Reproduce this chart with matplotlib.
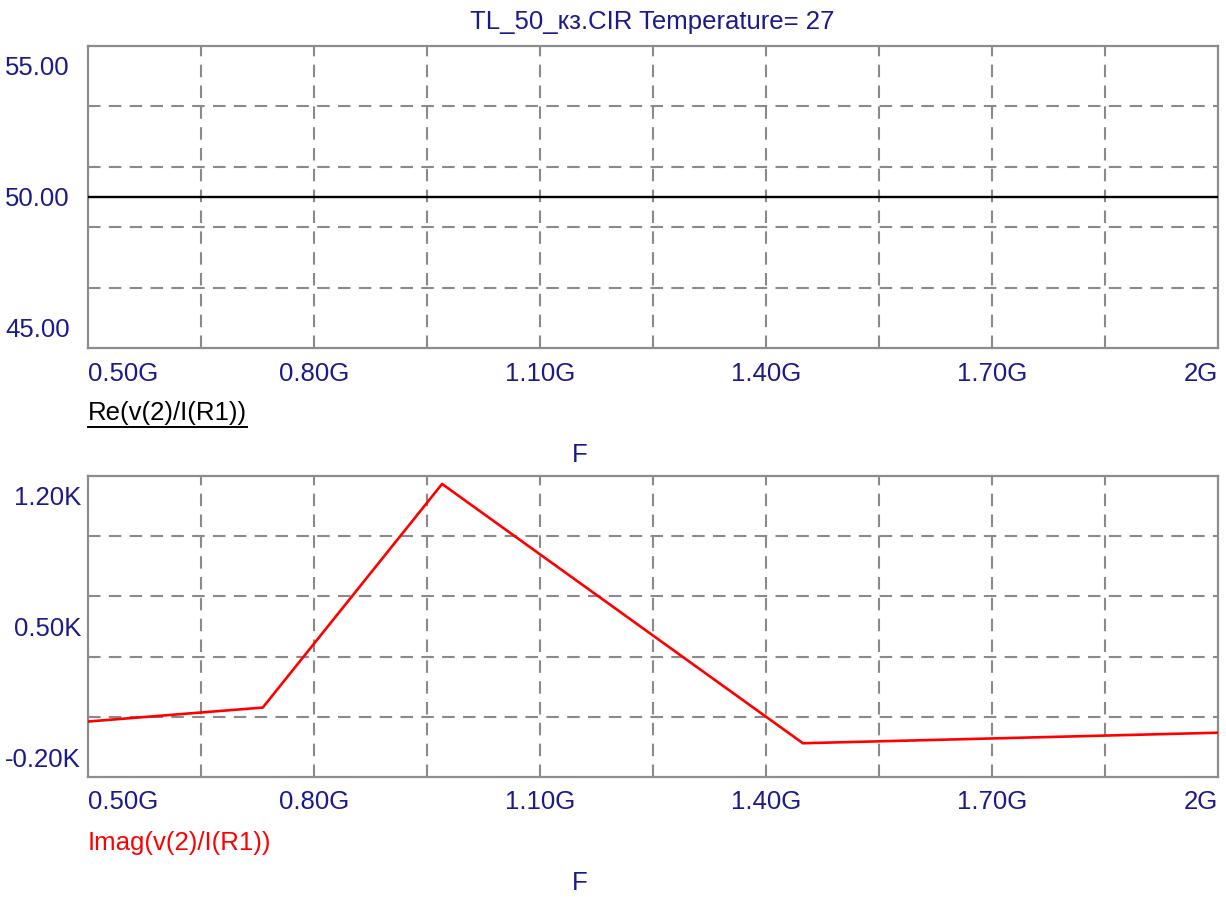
import numpy as np
import matplotlib
matplotlib.use("Agg")
import matplotlib.pyplot as plt
from matplotlib import transforms
from matplotlib.lines import Line2D

# frequency in GHz, impedance values
FREQ_RE = [0.5, 2.0]
RE_Z = [50.0, 50.0]                      # ohm
FREQ_IM = [0.5, 0.732, 0.970, 1.449, 2.0]
IM_Z = [0.058, 0.123, 1.163, -0.043, 0.006]   # kOhm

X_TICKS = [0.5, 0.8, 1.1, 1.4, 1.7, 2.0]
X_LABELS = ["0.50G", "0.80G", "1.10G", "1.40G", "1.70G", "2G"]
RE_TICKS = [45, 50, 55]
RE_LABELS = ["45.00", "50.00", "55.00"]
IM_TICKS = [-0.2, 0.5, 1.2]
IM_LABELS = ["-0.20K", "0.50K", "1.20K"]

TITLE = "TL_50_кз.CIR Temperature= 27"
RE_NAME = "Re(v(2)/I(R1))"
IM_NAME = "Imag(v(2)/I(R1))"

NAVY = "#1a1a8c"
GRID = "#8a8a8a"
FS = 18.5

plt.rcParams["font.family"] = ["Liberation Sans Narrow", "Liberation Sans", "DejaVu Sans"]
plt.rcParams["lines.scale_dashes"] = False

W, H = 1226, 897
fig = plt.figure(figsize=(W / 100, H / 100), dpi=100)


def px_axes(left, top, right, bottom):
    return fig.add_axes([left / W, 1 - bottom / H, (right - left) / W, (bottom - top) / H])


def style(ax, ylim, yticks, ylabels, ypad, xpad):
    ax.set_xlim(0.5, 2.0)
    ax.set_ylim(*ylim)
    for gx in np.linspace(0.5, 2.0, 11)[1:-1]:
        ax.axvline(gx, color=GRID, lw=1.5, ls=(0, (9, 6)), zorder=1)
    for gy in np.linspace(ylim[0], ylim[1], 6)[1:-1]:
        ax.axhline(gy, color=GRID, lw=1.5, ls=(0, (9, 6)), zorder=1)
    for s in ax.spines.values():
        s.set_color("#8c8c8c")
        s.set_linewidth(1.6)
    ax.set_xticks(X_TICKS, X_LABELS)
    ax.set_yticks(yticks, ylabels)
    ax.tick_params(length=0, labelsize=FS, labelcolor=NAVY)
    ax.tick_params(axis="y", pad=ypad)
    ax.tick_params(axis="x", pad=xpad)
    xl = ax.get_xticklabels()
    xl[0].set_ha("left")
    xl[-1].set_ha("right")
    yl = ax.get_yticklabels()
    yl[0].set_transform(yl[0].get_transform() + transforms.ScaledTranslation(0, 0.20, fig.dpi_scale_trans))
    yl[-1].set_transform(yl[-1].get_transform() + transforms.ScaledTranslation(0, -0.20, fig.dpi_scale_trans))


ax1 = px_axes(88, 46, 1218, 348)
style(ax1, (45, 55), RE_TICKS, RE_LABELS, 13, 10)
ax1.plot(FREQ_RE, RE_Z, color="black", lw=1.7, zorder=3)

ax2 = px_axes(88, 476, 1218, 777)
style(ax2, (-0.2, 1.2), IM_TICKS, IM_LABELS, 5, 9)
ax2.plot(FREQ_IM, IM_Z, color="red", lw=1.9, zorder=3)

fig.text(652 / W, 1 - 22 / H, TITLE, ha="center", va="center", fontsize=FS, color=NAVY)
re_txt = fig.text(88 / W, 1 - 413 / H, RE_NAME, ha="left", va="center", fontsize=FS, color="black")
fig.text(580 / W, 1 - 455 / H, "F", ha="center", va="center", fontsize=FS, color=NAVY)
fig.text(88 / W, 1 - 843 / H, IM_NAME, ha="left", va="center", fontsize=FS, color="red")
fig.text(580 / W, 1 - 883 / H, "F", ha="center", va="center", fontsize=FS, color=NAVY)

# underline for the Re label
fig.canvas.draw()
bb = re_txt.get_window_extent()
fig.add_artist(Line2D([bb.x0 / W, bb.x1 / W], [(bb.y0 - 2) / H, (bb.y0 - 2) / H],
                      color="black", lw=1.4, transform=fig.transFigure))

fig.savefig("out.png", dpi=100)
